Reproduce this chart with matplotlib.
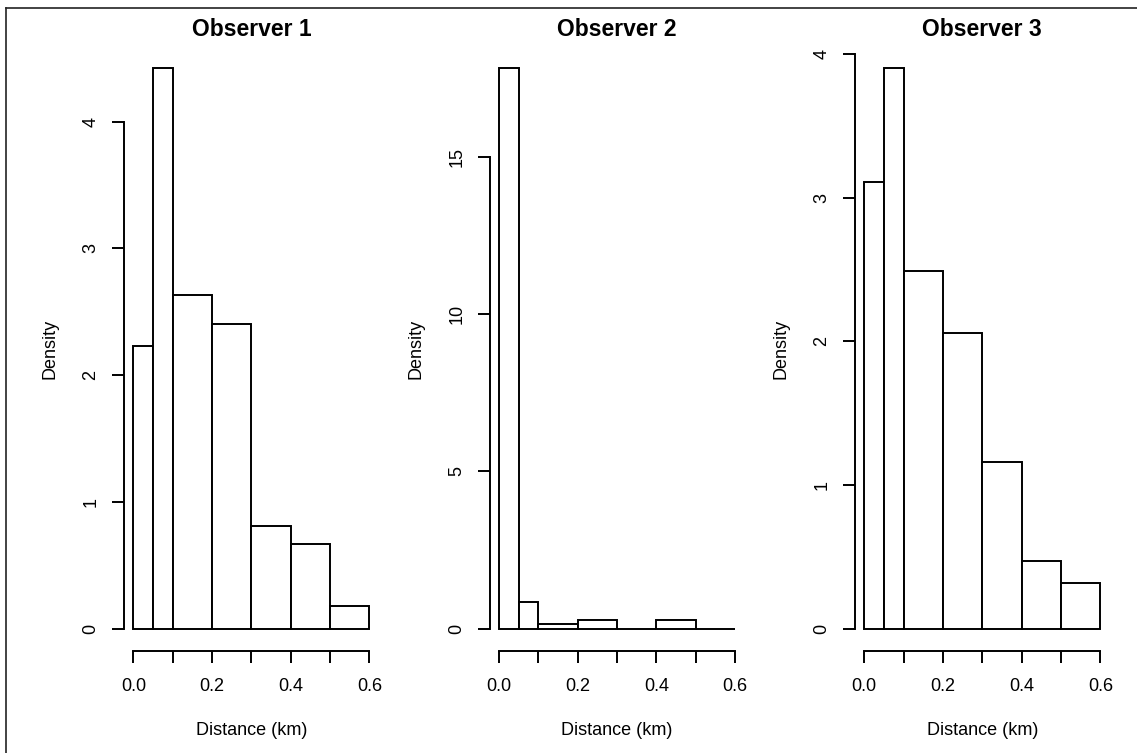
import numpy as np
import matplotlib.pyplot as plt
from matplotlib.lines import Line2D

plt.rcParams['font.family'] = ['Liberation Sans', 'DejaVu Sans']

# bin edges (km) and histogram densities per observer
edges = [0.0, 0.05, 0.1, 0.2, 0.3, 0.4, 0.5, 0.6]
obs1 = [2.23, 4.42, 2.63, 2.40, 0.81, 0.67, 0.18]
obs2 = [17.8, 0.84, 0.14, 0.27, 0.0, 0.27, 0.0]
obs3 = [3.11, 3.90, 2.49, 2.06, 1.16, 0.47, 0.32]
titles = ["Observer 1", "Observer 2", "Observer 3"]
yticks = [[0, 1, 2, 3, 4], [0, 5, 10, 15], [0, 1, 2, 3, 4]]
xticks = [0.0, 0.1, 0.2, 0.3, 0.4, 0.5, 0.6]
xticklabels = ["0.0", "", "0.2", "", "0.4", "", "0.6"]

W, H = 1137, 753
fig = plt.figure(figsize=(W / 100, H / 100), dpi=100)

lefts = [123.9, 489.6, 854.8]
ax_w, ax_top, ax_bot = 255.0, 46.0, 651.0
lw = 1.4

for i, dens in enumerate([obs1, obs2, obs3]):
    ax = fig.add_axes([lefts[i] / W, (H - ax_bot) / H, ax_w / W, (ax_bot - ax_top) / H])
    e = np.array(edges)
    ax.bar(e[:-1], dens, width=np.diff(e), align='edge',
           color='white', edgecolor='black', linewidth=lw)

    ymax = max(dens)
    ax.set_xlim(-0.024, 0.624)
    ax.set_ylim(-0.04 * ymax, 1.04 * ymax)

    # R-style detached axes
    for s in ['top', 'right']:
        ax.spines[s].set_visible(False)
    ax.spines['bottom'].set_bounds(0, 0.6)
    ax.spines['left'].set_bounds(yticks[i][0], yticks[i][-1])
    ax.spines['bottom'].set_linewidth(lw)
    ax.spines['left'].set_linewidth(lw)

    ax.set_xticks(xticks)
    ax.set_xticklabels(xticklabels)
    ax.set_yticks(yticks[i])
    ax.tick_params(axis='both', length=8.6, width=lw, labelsize=13, color='black')
    ax.tick_params(axis='x', pad=11)
    ax.tick_params(axis='y', pad=9, labelrotation=90)
    for lab in ax.get_yticklabels():
        lab.set_va('center')

    ax.set_title(titles[i], fontsize=16.5, fontweight='bold', pad=7)
    ax.text(0.5, -0.1306, "Distance (km)", transform=ax.transAxes,
            ha='center', va='center', fontsize=13)
    ax.text(-0.29, 0.5, "Density", transform=ax.transAxes, rotation=90,
            ha='center', va='center', fontsize=13)

# frame lines along the top and left edge
fig.add_artist(Line2D([6 / W, 6 / W], [0, 1 - 8 / H], transform=fig.transFigure,
                      color='#222222', linewidth=1.2))
fig.add_artist(Line2D([6 / W, 1], [1 - 8 / H, 1 - 8 / H], transform=fig.transFigure,
                      color='#222222', linewidth=1.2))

fig.savefig("out.png", dpi=100)
